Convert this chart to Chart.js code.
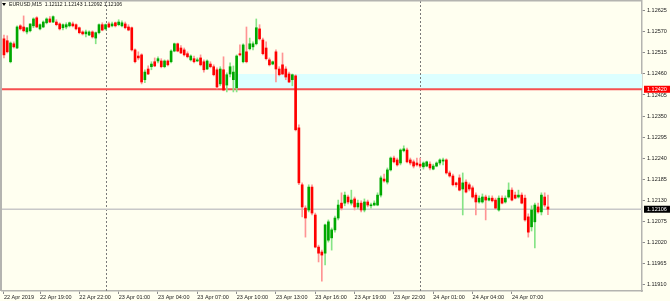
<!DOCTYPE html>
<html>
<head>
<meta charset="utf-8">
<script src="https://cdn.jsdelivr.net/npm/chart.js@4/dist/chart.umd.min.js"></script>
<style>
  html, body { margin: 0; padding: 0; background: #fffff0; }
  #wrap { width: 670px; height: 301px; }
</style>
</head>
<body>
<div id="wrap"><canvas id="chart" width="670" height="301"></canvas></div>
<script>
// EURUSD M15, one bar every 15 min starting 22 Apr 16:15
const SYMBOL = 'EURUSD,M15';
const OPEN = [
  1.12552,1.12547,1.12492,1.12539,1.12528,1.12586,1.12583,1.12570,1.12573,1.12586,
  1.12607,1.12578,1.12583,1.12594,1.12604,1.12596,1.12596,1.12591,1.12581,1.12583,
  1.12586,1.12591,1.12589,1.12581,1.12570,1.12565,1.12562,1.12570,1.12554,1.12568,
  1.12589,1.12578,1.12591,1.12586,1.12594,1.12589,1.12586,1.12591,1.12583,1.12581,
  1.12523,1.12507,1.12510,1.12445,1.12473,1.12479,1.12492,1.12494,1.12494,1.12479,
  1.12494,1.12492,1.12520,1.12539,1.12528,1.12523,1.12513,1.12497,1.12500,1.12494,
  1.12502,1.12492,1.12473,1.12486,1.12479,1.12471,1.12434,1.12471,1.12431,1.12460,
  1.12445,1.12424,1.12513,1.12492,1.12518,1.12526,1.12531,1.12539,1.12578,1.12549,
  1.12528,1.12497,1.12486,1.12518,1.12473,1.12484,1.12473,1.12460,1.12445,1.12455,
  1.12319,1.12170,1.12109,1.12104,1.12164,1.12091,1.12007,1.11994,1.11991,1.12025,
  1.12031,1.12052,1.12083,1.12122,1.12122,1.12138,1.12122,1.12133,1.12112,1.12122,
  1.12104,1.12125,1.12115,1.12117,1.12117,1.12143,1.12185,1.12177,1.12209,1.12240,
  1.12235,1.12227,1.12259,1.12261,1.12235,1.12230,1.12227,1.12224,1.12217,1.12219,
  1.12224,1.12211,1.12219,1.12227,1.12232,1.12235,1.12201,1.12193,1.12175,1.12188,
  1.12159,1.12177,1.12170,1.12162,1.12143,1.12125,1.12125,1.12138,1.12130,1.12135,
  1.12130,1.12104,1.12135,1.12125,1.12138,1.12156,1.12143,1.12138,1.12143,1.12135,
  1.12086,1.12060,1.12073,1.12112,1.12099,1.12138,1.12112
];
const HIGH = [
  1.12562,1.12560,1.12544,1.12544,1.12586,1.12589,1.12612,1.12581,1.12591,1.12607,
  1.12610,1.12591,1.12599,1.12607,1.12610,1.12612,1.12602,1.12594,1.12591,1.12594,
  1.12596,1.12596,1.12591,1.12583,1.12573,1.12575,1.12573,1.12573,1.12570,1.12591,
  1.12594,1.12591,1.12596,1.12596,1.12596,1.12602,1.12599,1.12596,1.12589,1.12583,
  1.12526,1.12518,1.12513,1.12471,1.12481,1.12492,1.12502,1.12505,1.12500,1.12497,
  1.12497,1.12523,1.12541,1.12541,1.12534,1.12528,1.12518,1.12510,1.12507,1.12502,
  1.12510,1.12497,1.12497,1.12492,1.12484,1.12476,1.12479,1.12505,1.12463,1.12489,
  1.12481,1.12510,1.12536,1.12539,1.12583,1.12554,1.12544,1.12604,1.12589,1.12554,
  1.12544,1.12502,1.12494,1.12523,1.12479,1.12515,1.12479,1.12465,1.12460,1.12458,
  1.12327,1.12175,1.12115,1.12170,1.12170,1.12096,1.12012,1.11999,1.12067,1.12078,
  1.12057,1.12088,1.12130,1.12149,1.12151,1.12143,1.12156,1.12138,1.12130,1.12128,
  1.12133,1.12130,1.12122,1.12128,1.12149,1.12193,1.12198,1.12214,1.12243,1.12245,
  1.12240,1.12264,1.12272,1.12266,1.12240,1.12235,1.12240,1.12240,1.12230,1.12232,
  1.12230,1.12224,1.12230,1.12238,1.12240,1.12238,1.12206,1.12198,1.12177,1.12196,
  1.12201,1.12183,1.12175,1.12167,1.12149,1.12141,1.12146,1.12143,1.12141,1.12141,
  1.12135,1.12141,1.12141,1.12141,1.12175,1.12162,1.12151,1.12156,1.12149,1.12143,
  1.12094,1.12115,1.12122,1.12122,1.12149,1.12149,1.12143
];
const LOW = [
  1.12502,1.12515,1.12489,1.12528,1.12526,1.12575,1.12570,1.12565,1.12570,1.12581,
  1.12581,1.12575,1.12581,1.12591,1.12594,1.12594,1.12586,1.12575,1.12575,1.12578,
  1.12583,1.12583,1.12575,1.12565,1.12562,1.12557,1.12560,1.12554,1.12539,1.12565,
  1.12573,1.12575,1.12581,1.12583,1.12583,1.12586,1.12583,1.12578,1.12573,1.12520,
  1.12489,1.12497,1.12434,1.12437,1.12458,1.12471,1.12479,1.12489,1.12476,1.12476,
  1.12481,1.12489,1.12518,1.12518,1.12513,1.12507,1.12502,1.12494,1.12489,1.12492,
  1.12481,1.12465,1.12471,1.12476,1.12455,1.12421,1.12429,1.12416,1.12413,1.12452,
  1.12413,1.12413,1.12507,1.12489,1.12489,1.12523,1.12523,1.12536,1.12549,1.12510,
  1.12497,1.12481,1.12484,1.12439,1.12455,1.12458,1.12445,1.12437,1.12429,1.12311,
  1.12170,1.12086,1.12033,1.12099,1.12091,1.12005,1.11968,1.11918,1.11960,1.12020,
  1.11999,1.12046,1.12078,1.12104,1.12115,1.12120,1.12117,1.12104,1.12107,1.12099,
  1.12099,1.12112,1.12109,1.12115,1.12115,1.12138,1.12177,1.12172,1.12206,1.12227,
  1.12219,1.12222,1.12256,1.12227,1.12222,1.12214,1.12219,1.12214,1.12211,1.12217,
  1.12209,1.12209,1.12217,1.12222,1.12222,1.12198,1.12190,1.12167,1.12164,1.12154,
  1.12091,1.12149,1.12154,1.12135,1.12091,1.12122,1.12122,1.12078,1.12128,1.12125,
  1.12107,1.12101,1.12120,1.12122,1.12135,1.12128,1.12133,1.12135,1.12120,1.12075,
  1.12033,1.12049,1.12005,1.12096,1.12091,1.12112,1.12092
];
const CLOSE = [
  1.12510,1.12518,1.12541,1.12531,1.12583,1.12578,1.12573,1.12581,1.12591,1.12604,
  1.12583,1.12589,1.12596,1.12604,1.12596,1.12610,1.12589,1.12578,1.12589,1.12589,
  1.12594,1.12586,1.12578,1.12568,1.12565,1.12570,1.12570,1.12557,1.12568,1.12589,
  1.12575,1.12589,1.12583,1.12591,1.12586,1.12596,1.12594,1.12581,1.12575,1.12523,
  1.12492,1.12502,1.12439,1.12465,1.12460,1.12486,1.12481,1.12500,1.12479,1.12494,
  1.12484,1.12520,1.12539,1.12520,1.12515,1.12510,1.12505,1.12507,1.12492,1.12497,
  1.12484,1.12471,1.12494,1.12479,1.12458,1.12426,1.12473,1.12418,1.12458,1.12479,
  1.12465,1.12507,1.12510,1.12536,1.12492,1.12539,1.12539,1.12581,1.12552,1.12513,
  1.12500,1.12484,1.12492,1.12473,1.12458,1.12460,1.12452,1.12439,1.12458,1.12314,
  1.12175,1.12112,1.12083,1.12164,1.12096,1.12007,1.11991,1.11986,1.12065,1.12073,
  1.12052,1.12083,1.12117,1.12109,1.12143,1.12125,1.12130,1.12112,1.12122,1.12104,
  1.12125,1.12117,1.12117,1.12122,1.12143,1.12188,1.12180,1.12209,1.12240,1.12230,
  1.12222,1.12261,1.12264,1.12230,1.12227,1.12219,1.12222,1.12219,1.12227,1.12230,
  1.12214,1.12219,1.12227,1.12235,1.12235,1.12201,1.12193,1.12170,1.12170,1.12156,
  1.12175,1.12151,1.12159,1.12138,1.12125,1.12135,1.12138,1.12130,1.12135,1.12128,
  1.12109,1.12135,1.12122,1.12135,1.12156,1.12130,1.12135,1.12143,1.12122,1.12078,
  1.12046,1.12104,1.12117,1.12099,1.12143,1.12117,1.12106
];

// time axis labels sit on these bar indices
const X_TICK_INDEX = [0, 11, 23, 35, 47, 59, 71, 83, 95, 107, 119, 131, 143, 155];
const X_TICK_LABELS = ['22 Apr 2019', '22 Apr 19:00', '22 Apr 22:00', '23 Apr 01:00', '23 Apr 04:00',
  '23 Apr 07:00', '23 Apr 10:00', '23 Apr 13:00', '23 Apr 16:00', '23 Apr 19:00', '23 Apr 22:00',
  '24 Apr 01:00', '24 Apr 04:00', '24 Apr 07:00'];
const Y_TICKS = [1.11910, 1.11965, 1.12020, 1.12075, 1.12130, 1.12185, 1.12240,
  1.12295, 1.12350, 1.12405, 1.12460, 1.12515, 1.12570, 1.12625];

const DAY_SEPARATORS = [31, 127];   // midnight bars
const LEVEL_PRICE = 1.12420;        // red horizontal line
const ZONE_START = 70;              // rectangle from this bar to the right edge
const ZONE_TOP = 1.12460;
const ZONE_BOTTOM = 1.12420;
const BID = CLOSE[CLOSE.length - 1];

const FONT = "'Liberation Sans', Arial, sans-serif";
const FRAME = '#b4b4b0';
const BULL = '#00a800', BEAR = '#ff0000';
const BULL_WICK = '#86e486', BEAR_WICK = '#ff9494';

const idx = OPEN.map((_, i) => i);
const up = idx.map(i => CLOSE[i] >= OPEN[i]);

const mt4Overlay = {
  id: 'mt4Overlay',
  beforeDraw(chart) {
    const ctx = chart.ctx;
    ctx.save();
    ctx.fillStyle = '#fffff0';
    ctx.fillRect(0, 0, chart.width, chart.height);
    ctx.restore();
  },
  beforeDatasetsDraw(chart) {
    const { ctx, chartArea: a, scales: { x, y } } = chart;
    ctx.save();
    // highlight zone
    const zx = x.getPixelForValue(ZONE_START);
    const zt = y.getPixelForValue(ZONE_TOP), zb = y.getPixelForValue(ZONE_BOTTOM);
    ctx.fillStyle = '#dcffff';
    ctx.fillRect(zx, zt, a.right - zx, zb - zt);
    // day separators
    ctx.strokeStyle = '#7a7a7a';
    ctx.lineWidth = 1;
    ctx.setLineDash([2, 2]);
    DAY_SEPARATORS.forEach(v => {
      const px = Math.round(x.getPixelForValue(v)) + 0.5;
      ctx.beginPath(); ctx.moveTo(px, a.top); ctx.lineTo(px, a.bottom); ctx.stroke();
    });
    ctx.setLineDash([]);
    // bid line
    const by = y.getPixelForValue(BID);
    ctx.strokeStyle = '#c8c8c8';
    ctx.lineWidth = 1.5;
    ctx.beginPath(); ctx.moveTo(a.left, by); ctx.lineTo(a.right, by); ctx.stroke();
    // level line
    const ly = y.getPixelForValue(LEVEL_PRICE);
    ctx.strokeStyle = '#f65050';
    ctx.lineWidth = 2;
    ctx.beginPath(); ctx.moveTo(a.left, ly); ctx.lineTo(a.right, ly); ctx.stroke();
    ctx.restore();
  },
  afterDraw(chart) {
    const { ctx, chartArea: a, scales: { y } } = chart;
    ctx.save();
    // frame on left / top
    ctx.fillStyle = FRAME;
    ctx.fillRect(0, 0, 2, a.bottom);
    ctx.fillRect(0, 0, a.right, 1.5);
    // price tags on the right axis
    ctx.font = '5.5px ' + FONT;
    ctx.textBaseline = 'middle';
    ctx.textAlign = 'left';
    [[LEVEL_PRICE, '#ff0000'], [BID, '#000000']].forEach(([p, c]) => {
      const py = y.getPixelForValue(p);
      ctx.fillStyle = c;
      ctx.fillRect(a.right + 2, py - 3.5, 26, 7);
      ctx.fillStyle = '#ffffff';
      ctx.fillText(p.toFixed(5), a.right + 5, py + 0.3);
    });
    // symbol header
    const n = OPEN.length - 1;
    ctx.fillStyle = '#000';
    ctx.beginPath(); ctx.moveTo(2, 3); ctx.lineTo(6, 3); ctx.lineTo(4, 6); ctx.closePath(); ctx.fill();
    ctx.font = '5.1px ' + FONT;
    ctx.fillStyle = '#111';
    ctx.fillText(SYMBOL + '  ' + [OPEN[n], HIGH[n], LOW[n], CLOSE[n]].map(v => v.toFixed(5)).join(' '), 9, 5);
    ctx.restore();
  }
};

const tickFont = { family: FONT, size: 5.5 };

new Chart(document.getElementById('chart'), {
  type: 'bar',
  data: {
    datasets: [
      {
        data: idx.map(i => ({ x: i, y: [OPEN[i], CLOSE[i]] })),
        backgroundColor: up.map(u => u ? BULL : BEAR),
        barThickness: 2, grouped: false, minBarLength: 1
      },
      {
        data: idx.map(i => ({ x: i, y: [LOW[i], HIGH[i]] })),
        backgroundColor: up.map(u => u ? BULL_WICK : BEAR_WICK),
        barThickness: 1, grouped: false
      }
    ]
  },
  options: {
    responsive: false,
    animation: false,
    events: [],
    layout: { padding: { left: 2, top: 1, right: 0, bottom: 0 } },
    plugins: { legend: { display: false }, tooltip: { enabled: false } },
    scales: {
      x: {
        type: 'linear', min: -0.6, max: 194.7, offset: false, bounds: 'data',
        afterBuildTicks: s => { s.ticks = X_TICK_INDEX.map(v => ({ value: v })); },
        afterFit: s => { s.height = 10; s.paddingLeft = 0; s.paddingRight = 0; },
        grid: { drawOnChartArea: false, drawTicks: true, tickLength: 3, color: '#8c8c8c', offset: false },
        border: { display: true, color: FRAME, width: 1.5 },
        ticks: {
          autoSkip: false, maxRotation: 0, minRotation: 0, align: 'start', padding: 0,
          color: '#222', font: tickFont,
          callback: (v, i) => X_TICK_LABELS[i]
        }
      },
      y: {
        position: 'right', min: 1.11892, max: 1.12651, beginAtZero: false, bounds: 'data',
        afterBuildTicks: s => { s.ticks = Y_TICKS.map(v => ({ value: v })); },
        afterFit: s => { s.width = 28; s.paddingTop = 0; s.paddingBottom = 0; },
        grid: { drawOnChartArea: false, drawTicks: true, tickLength: 3, color: '#8c8c8c' },
        border: { display: true, color: FRAME, width: 1.5 },
        ticks: { padding: 2, color: '#222', font: tickFont, callback: v => v.toFixed(5) }
      }
    }
  },
  plugins: [mt4Overlay]
});
</script>
</body>
</html>
